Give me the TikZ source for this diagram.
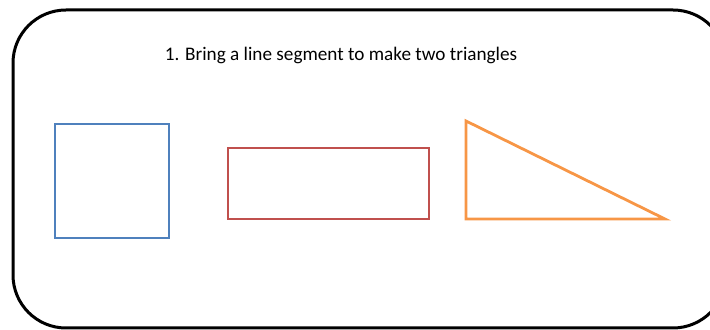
\documentclass[tikz,border=0pt]{standalone}
\usepackage{fontspec}
\setmainfont{Carlito}
\usepackage{xcolor}
\definecolor{offblue}{HTML}{4F81BD}
\definecolor{offred}{HTML}{C0504D}
\definecolor{offorange}{HTML}{F79646}

\begin{document}
\begin{tikzpicture}[
  x=0.5pt, y=-0.5pt,
  frame/.style={draw=black, line width=1.5pt, rounded corners=26.5pt},
  shapeline/.style={line width=1.4pt},
  title/.style={font=\fontsize{9.6pt}{11pt}\selectfont, anchor=base}
]
  \useasboundingbox (0,0) rectangle (710,330);
  \clip (0,0) rectangle (710,330);
  \draw[frame] (13,10) rectangle (726,328);
  \node[title] (task) at (341,61) {1. Bring a line segment to make two triangles};
  \draw[shapeline, draw=offblue] (55,124) rectangle (169,238);
  \draw[shapeline, draw=offred] (228,148) rectangle (429,219);
  \draw[shapeline, draw=offorange] (466,121) -- (466,219) -- (665,219) -- cycle;
\end{tikzpicture}
\end{document}
